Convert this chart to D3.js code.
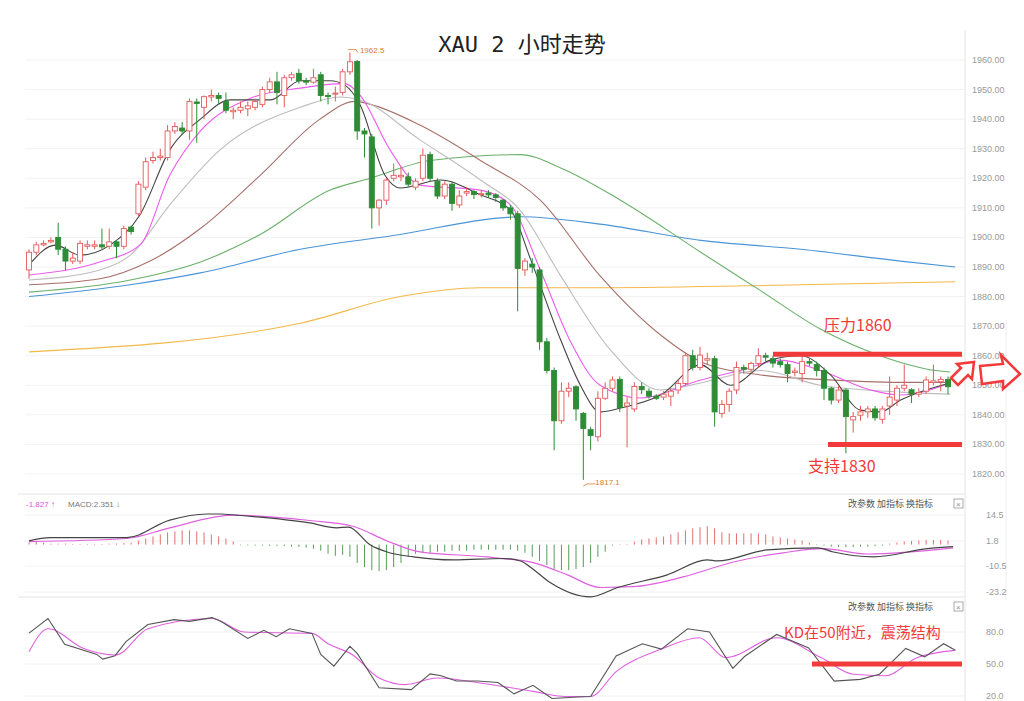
<!DOCTYPE html>
<html><head><meta charset="utf-8">
<script src="https://cdn.jsdelivr.net/npm/d3@7"></script>
<style>body{margin:0;background:#fff}svg{display:block}</style>
</head><body>
<svg id="c" width="1024" height="701"></svg>
<script>
// candles: [open, close, high, low]
var candles = [
[1889,1895,1896,1886],[1895,1897.5,1898.5,1894],[1897.5,1898,1899,1897],[1898.5,1899,1900,1898],
[1900,1896,1905,1894],[1896,1892,1897,1889],[1892,1893,1895,1891],[1892,1898,1899,1891],
[1897,1897.5,1899,1896],[1897,1897.5,1899,1896],[1897.5,1896.8,1903,1896],[1897,1898.5,1903,1896],
[1898.5,1897,1899,1893],[1897,1903,1904,1896],[1903.5,1902,1904,1901],[1908,1918,1919,1907],
[1917,1925.6,1927,1916],[1926,1927,1929,1925],[1927,1927.5,1930,1926],[1927,1936,1938,1926],
[1936,1937.5,1939,1935],[1937,1936,1939,1935],[1936,1946,1947,1933],[1945.8,1945.3,1947,1932],
[1944,1947.6,1948,1940],[1947.5,1948,1950,1946],[1948,1947,1949,1945],[1946,1943,1949,1942],
[1942.5,1943,1944,1940],[1943,1944,1946,1942],[1943.5,1944.5,1946,1941],[1944,1946,1947,1943],
[1945,1950,1951,1944],[1950,1952.6,1954,1949],[1952.6,1949,1956,1945],[1948,1954,1955,1944],
[1954,1955,1956,1953],[1955.5,1953,1957,1952],[1953,1952.5,1954,1951.5],[1952.5,1954,1957,1952],
[1955,1948,1956,1946],[1948,1947.8,1949,1945],[1948.5,1948.8,1951,1946],[1949,1956,1957,1948],
[1956,1959.4,1962.5,1955],[1959.5,1936,1960,1933],[1936,1935,1937,1927],[1934,1910,1935,1903],
[1910,1912.6,1913,1904],[1912.6,1919.4,1920,1911],[1920,1921,1925,1919],[1920.5,1921,1924,1919],
[1920.5,1918,1922,1917],[1917,1919,1920,1916],[1920,1927.8,1930,1919],[1928,1920,1929,1919],
[1919,1914,1920,1913],[1914,1918,1919,1913],[1918,1911.5,1919,1909],[1911,1914,1916,1910],
[1915,1915.5,1917,1914],[1915.5,1914.5,1916,1913],[1914.5,1914.8,1916,1913.5],[1915,1914.4,1916,1913.5],
[1914.4,1913.5,1915,1912],[1912.6,1910,1913,1909],[1910,1908,1911,1906],[1908,1889.5,1909,1875],
[1889,1892,1893,1887],[1891,1890,1893,1888],[1889,1864.7,1890,1862],[1864.7,1855,1866,1854],
[1855,1838,1856,1828],[1838,1848,1851,1837],[1848,1849,1851,1846],[1849.5,1842,1850,1838],
[1840.5,1835.4,1841,1818],[1835,1833,1836,1828],[1832.6,1845.6,1848,1831],[1845.6,1849,1851,1845],
[1849,1851.8,1853,1848],[1852,1842.5,1853,1841],[1843,1844,1846,1829],[1842,1849.6,1851,1841],
[1849.6,1848.5,1851,1847],[1848,1846.3,1849,1845.5],[1846.3,1845.6,1847,1845],[1846,1847,1848,1845],
[1846.3,1848,1849,1843],[1848.4,1850.6,1852,1847],[1850.6,1860,1861,1850],[1860,1856,1862,1855],
[1856,1860.2,1863,1855],[1858.5,1859,1861,1857],[1859,1841,1860,1836],[1840.5,1843.5,1845,1839],
[1843.5,1848,1849,1841],[1848.4,1856,1858,1847],[1856,1855.4,1857,1854],[1855.4,1857.4,1858,1854],
[1857.4,1860,1862.5,1856],[1860,1859.5,1861,1858],[1859,1857.5,1860,1856],[1858,1857,1859,1856],
[1857,1854,1858,1851],[1854.3,1854.8,1856,1853],[1854,1858,1861,1851],[1858,1857.5,1859,1856.5],
[1857,1855,1858,1853],[1855,1849,1856,1845],[1849,1845,1849.5,1843.5],[1845,1848.4,1850,1844],
[1848.4,1839.4,1849,1827],[1838.3,1839.4,1841,1834],[1839.9,1841,1843,1838],[1841,1842,1843,1839],
[1842,1839,1843,1838],[1838.5,1842,1843,1837],[1843,1846,1853,1840],[1845,1849,1850,1843],
[1849,1850,1857,1848],[1848.5,1847,1849,1844],[1847,1847.6,1849,1846],[1848,1851.8,1853,1847],
[1851,1851.5,1857,1850],[1851.2,1852,1853,1848],[1852,1849.5,1853,1847]
];

// moving averages: [candle index, price]
var ma5 = [[0,1890.7],[3.6,1897.4],[7,1894],[11.1,1897.4],[15.2,1907.6],[19.3,1929.6],[23.5,1940],[27.6,1946.5],[33.1,1946.5],[37.2,1953],[41.3,1953],[43.3,1951.5],[45.4,1944.8],[48.8,1921],[50.9,1916.7],[56.4,1919.4],[61.9,1914.4],[66,1909.3],[68.8,1892.4],[72.9,1865.3],[75.6,1850],[78.3,1841],[81.1,1842.3],[86.6,1846.7],[92.1,1856.9],[96.2,1850],[101.6,1858.5],[105.8,1860],[109.9,1853.5],[114,1841.6],[116.7,1841],[119.5,1845],[126.3,1850.8]];
var ma10 = [[0,1887.3],[9.7,1891.7],[15.2,1897.4],[19.3,1921],[23.5,1936],[30.3,1947],[37.2,1950.5],[43.3,1952],[45.4,1948],[49.5,1929.6],[53.6,1917.7],[61.9,1916],[66,1911],[70.1,1889],[74.2,1865],[78.3,1850],[83.8,1845.7],[92.1,1851.8],[97.5,1855],[103,1858.5],[108.5,1855],[115.4,1848.4],[119.5,1846.7],[126.3,1850.8]];
var ma20 = [[0,1885.6],[9.7,1889],[13.9,1894],[19.3,1911],[26.2,1929.6],[37.2,1944],[42.7,1947.5],[45.4,1946.5],[53.6,1933],[61.9,1919.4],[67.4,1909],[72.9,1887],[79.7,1862],[86.6,1848.4],[92.1,1850.8],[100.3,1855],[108.5,1850],[119.5,1847.7],[126.3,1847]];
var ma30 = [[0,1884],[9.7,1886],[16.6,1892],[23.5,1903],[31.7,1921],[39.9,1940],[44.7,1946],[46.8,1945],[53.6,1938],[61.9,1926],[70.1,1912.6],[78.3,1887],[86.6,1867],[92.1,1858],[100.3,1853.5],[108.5,1852],[119.5,1851],[126.3,1851]];
var ma60 = [[0,1881.5],[13.9,1885.6],[23.5,1891.7],[31.7,1901],[41.3,1916],[46.8,1920],[55,1926],[67.4,1928],[72.9,1923.5],[81.1,1912.6],[92.1,1895],[100.3,1882],[108.5,1869],[116.7,1860],[124.3,1855],[126.3,1854.5]];
var ma120 = [[0,1880],[13.9,1884],[23.5,1888],[37.2,1896],[50.9,1901],[64.6,1906.6],[67.4,1907],[78.3,1904.5],[92.1,1899],[105.8,1896],[119.5,1892],[127,1890]];
var ma250 = [[0,1861.3],[37.2,1871],[50.9,1880],[61.9,1883],[78.3,1883],[105.8,1884],[127,1885]];

// MACD histogram, one bar per candle
var macdHist = [1,1.5,1,0.5,0.5,0.5,0.3,0.3,0.3,0.3,0.3,0.5,0.5,0.8,
1,2,3,4,5,6,6.5,7,7,6.5,6,5,4,3,1.5,
-0.3,-0.4,-0.5,-0.5,-0.6,-0.6,-0.8,-1,-1.2,-1.5,-2,
-3,-4.5,-5.5,-5,-6,
-9,-11,-12.5,-13,-12.5,-11,-9,-6,
-4.5,-4,-4,-3.5,-3.5,-3,-3,-3,-2.5,-2.5,-2.5,-2.5,-2.5,-2.5,-3,-4,
-6,-8,-10,-12,-12.5,-12.5,-12,-11,-9,-6,-3.5,
-0.5,0.2,0.3,
1.5,2.5,3,3.5,4,5,6,7,8,8.5,9,8,6,5.5,5.5,5.5,5.5,5.5,5,4,3.5,3,2.5,2,1,
-0.3,-0.5,-1,-1.2,-1.2,-1.2,-1,-1,-0.8,-0.5,
0.5,1,1.5,1.8,2,2.2,2.3,2.2,2];
var dif = [[0,1.8],[2.9,3.4],[13.4,3.4],[19.3,12],[24.4,15],[26.2,15],[28.5,14.4],[38.5,10.6],[42.2,8.2],[43.8,8.6],[46.8,-0.2],[49.1,-3.6],[52.7,-6],[58.2,-7.5],[65,-6.8],[67.4,-8],[68.7,-10.9],[71.5,-18.7],[77,-25.6],[80.7,-21],[87.5,-14.8],[93,-7.5],[94.4,-8],[101.2,-2.6],[108.1,-1.6],[110.3,-3.6],[115.8,-6],[123.2,-2],[126.7,-1]];
var dea = [[0,1.5],[13.4,3],[19.3,8.2],[28,14.4],[38.5,11.8],[44.4,9],[49.1,1.8],[53.6,-3.6],[62.8,-6],[64.6,-6.7],[69.1,-8.8],[73.8,-14.8],[78.3,-21],[82.8,-20.6],[89.7,-15.8],[96.6,-8.5],[103.4,-4],[108.9,-2],[115,-4.6],[126.7,-1.6]];
var macdTicks = [14.5, 1.8, -10.5, -23.2];

// KD
var kLine = [[0,79],[2.6,92.6],[4.9,68.5],[9.3,59],[10.1,54.6],[11.8,57.8],[13.3,71],[16.3,87],[19.9,91.6],[22,90],[25.1,93.5],[26.3,90],[30,74],[32.2,81.6],[33.9,75.6],[35.7,83],[38.8,78.7],[40,59],[41.8,48],[44,66.5],[45,60],[48,27.8],[52.4,26],[55,40.7],[56.5,39],[58.6,34],[61.5,34],[64.3,32.7],[66.5,22],[69.1,30],[71.7,17.6],[75.3,19],[77,19.6],[80.5,57.6],[84.1,69],[86.7,64],[90.3,83],[93.3,80],[96.5,46],[98.1,57],[102.5,77.7],[106.9,65],[110.4,34],[114,35.6],[116.6,40.4],[120.2,64.6],[122.8,56.7],[125.4,69],[127,62.8]];
var dLine = [[0,61.5],[2.6,83],[7.5,64.6],[11.9,58.5],[16.3,83],[25.1,92.6],[29.5,80],[38.8,78.7],[41,69],[44.4,58.5],[48,36.9],[51.6,30.7],[56,36.9],[62.1,32],[69.1,24.3],[73.5,19.6],[77,19.6],[80.5,42.8],[86.7,64],[91.9,74.6],[95.5,56],[102.5,74.6],[108.6,56],[113,40.4],[117.4,39],[121.8,56],[127,62.8]];
var kdTicks = [80, 50, 20];

var priceTicks = d3.range(1820, 1961, 10);

var svg = d3.select("#c");
var fam = "'Liberation Sans','Noto Sans CJK SC',sans-serif";

var x = d3.scaleLinear().domain([0, 126]).range([29, 948]);
var y = d3.scaleLinear().domain([1820, 1960]).range([474, 60]);
var ym = d3.scaleLinear().domain([-23.2, 14.5]).range([592, 515]);
var yk = d3.scaleLinear().domain([20, 80]).range([696, 632]);

// frame & grid
svg.append("line").attr("x1",965).attr("x2",965).attr("y1",30).attr("y2",701).attr("stroke","#e4e4e4");
svg.append("line").attr("x1",18).attr("x2",965).attr("y1",494).attr("y2",494).attr("stroke","#e4e4e4");
svg.append("line").attr("x1",18).attr("x2",965).attr("y1",597).attr("y2",597).attr("stroke","#e4e4e4");
svg.append("line").attr("x1",1006).attr("x2",1006).attr("y1",320).attr("y2",600).attr("stroke","#eee");

svg.append("g").selectAll("line").data(priceTicks).join("line")
  .attr("x1",25).attr("x2",965).attr("y1",d=>y(d)).attr("y2",d=>y(d))
  .attr("stroke","#f2f2f2");
svg.append("g").selectAll("text").data(priceTicks).join("text")
  .attr("x",972).attr("y",d=>y(d)+3).text(d=>d.toFixed(2))
  .attr("font-family",fam).attr("font-size",9).attr("fill","#999");

svg.append("g").selectAll("line").data(macdTicks).join("line")
  .attr("x1",25).attr("x2",965).attr("y1",d=>ym(d)).attr("y2",d=>ym(d)).attr("stroke","#f2f2f2");
svg.append("g").selectAll("text").data(macdTicks).join("text")
  .attr("x",986).attr("y",d=>ym(d)+3).text(d=>d.toFixed(1))
  .attr("font-family",fam).attr("font-size",9).attr("fill","#999");
svg.append("g").selectAll("line").data(kdTicks).join("line")
  .attr("x1",25).attr("x2",965).attr("y1",d=>yk(d)).attr("y2",d=>yk(d)).attr("stroke","#f2f2f2");
svg.append("g").selectAll("text").data(kdTicks).join("text")
  .attr("x",986).attr("y",d=>yk(d)+3).text(d=>d.toFixed(1))
  .attr("font-family",fam).attr("font-size",9).attr("fill","#999");

// MA lines
var maLine = d3.line().x(d=>x(d[0])).y(d=>y(d[1])).curve(d3.curveMonotoneX);
[[ma250,"#f5b84a"],[ma120,"#4a94d8"],[ma60,"#6ab06a"],[ma30,"#a8706a"],[ma20,"#bdbdbd"],[ma10,"#ee5cee"],[ma5,"#444"]]
  .forEach(function(m){
    svg.append("path").attr("d",maLine(m[0])).attr("fill","none")
      .attr("stroke",m[1]).attr("stroke-width",1.1);
  });

// candles
var cw = 5;
var cg = svg.append("g");
candles.forEach(function(c, i){
  var up = c[1] >= c[0];
  var col = up ? "#e35a5a" : "#2e8b36";
  var top = y(Math.max(c[0],c[1])), bot = y(Math.min(c[0],c[1]));
  cg.append("line").attr("x1",x(i)).attr("x2",x(i)).attr("y1",y(c[2])).attr("y2",top).attr("stroke",col);
  cg.append("line").attr("x1",x(i)).attr("x2",x(i)).attr("y1",bot).attr("y2",y(c[3])).attr("stroke",col);
  cg.append("rect").attr("x",x(i)-cw/2).attr("y",top).attr("width",cw)
    .attr("height",Math.max(1,bot-top))
    .attr("fill", up ? "#fff" : col).attr("stroke",col).attr("stroke-width",0.9);
});

// max/min labels
svg.append("text").attr("x",x(44)+10).attr("y",y(1962.5)).text("1962.5")
  .attr("font-family",fam).attr("font-size",8).attr("fill","#e07a30");
svg.append("path").attr("d","M"+(x(44)-2)+","+(y(1962.5)-3)+" h8 l2,3").attr("fill","none").attr("stroke","#e07a30").attr("stroke-width",0.8);
svg.append("text").attr("x",x(76)+12).attr("y",y(1818)+5).text("1817.1")
  .attr("font-family",fam).attr("font-size",8).attr("fill","#e07a30");
svg.append("path").attr("d","M"+x(76)+","+(y(1818)+6)+" l4,-2 h8").attr("fill","none").attr("stroke","#e07a30").attr("stroke-width",0.8);

// title
svg.append("text").attr("x",522).attr("y",52).attr("text-anchor","middle")
  .attr("font-family","'DejaVu Sans Mono','Noto Sans CJK SC',monospace").attr("font-size",22).attr("fill","#222")
  .text("XAU 2 小时走势");

// support / resistance
var red = "#f23a3a";
svg.append("line").attr("x1",773).attr("x2",962).attr("y1",y(1860.5)).attr("y2",y(1860.5)).attr("stroke",red).attr("stroke-width",5);
svg.append("line").attr("x1",828).attr("x2",962).attr("y1",y(1830)).attr("y2",y(1830)).attr("stroke",red).attr("stroke-width",5);
svg.append("text").attr("x",824).attr("y",331).text("压力1860").attr("font-family","'Noto Sans CJK SC'").attr("font-size",16).attr("fill",red);
svg.append("text").attr("x",808).attr("y",472).text("支持1830").attr("font-family","'Noto Sans CJK SC'").attr("font-size",16).attr("fill",red);

// arrows
svg.append("path").attr("d","M951,378 L961,368 L957,364 L974,362 L972,379 L968,375 L958,385 Z")
  .attr("fill","#fff").attr("stroke",red).attr("stroke-width",2.5).attr("stroke-linejoin","miter");
svg.append("path").attr("d","M980,366 L1003,364 L1001,355 L1020,374 L1003,389 L1003,381 L982,384 Z")
  .attr("fill","#fff").attr("stroke",red).attr("stroke-width",2.5);

// MACD panel
var mg = svg.append("g");
macdHist.forEach(function(v, i){
  mg.append("line").attr("x1",x(i)).attr("x2",x(i)).attr("y1",ym(0)).attr("y2",ym(v))
    .attr("stroke", v >= 0 ? "#e07070" : "#5a9a5a").attr("stroke-width",1);
});
var mLine = d3.line().x(d=>x(d[0])).y(d=>ym(d[1])).curve(d3.curveMonotoneX);
svg.append("path").attr("d",mLine(dea)).attr("fill","none").attr("stroke","#e060e0").attr("stroke-width",1.2);
svg.append("path").attr("d",mLine(dif)).attr("fill","none").attr("stroke","#444").attr("stroke-width",1.2);
svg.append("text").attr("x",26).attr("y",507).attr("font-family",fam).attr("font-size",8).attr("fill","#e050e0").text("-1.827 ↑");
svg.append("text").attr("x",68).attr("y",507).attr("font-family",fam).attr("font-size",8).attr("fill","#777").text("MACD:2.351 ↓");

// KD panel
var kl = d3.line().x(d=>x(d[0])).y(d=>yk(d[1]));
svg.append("path").attr("d",kl.curve(d3.curveMonotoneX)(dLine)).attr("fill","none").attr("stroke","#e060e0").attr("stroke-width",1.1);
svg.append("path").attr("d",kl.curve(d3.curveLinear)(kLine)).attr("fill","none").attr("stroke","#555").attr("stroke-width",1.1);
svg.append("line").attr("x1",812).attr("x2",962).attr("y1",yk(50)).attr("y2",yk(50)).attr("stroke",red).attr("stroke-width",5);
svg.append("text").attr("x",784).attr("y",638).text("KD在50附近，震荡结构").attr("font-family","'Noto Sans CJK SC'").attr("font-size",15).attr("fill",red);

// panel buttons
[507, 610].forEach(function(yy){
  svg.append("text").attr("x",848).attr("y",yy).attr("font-family","'Noto Sans CJK SC'").attr("font-size",9).attr("fill","#555").text("改参数  加指标  换指标");
  svg.append("rect").attr("x",954).attr("y",yy-8).attr("width",9).attr("height",9).attr("fill","none").attr("stroke","#aaa");
  svg.append("text").attr("x",956).attr("y",yy).attr("font-family",fam).attr("font-size",8).attr("fill","#888").text("×");
});
</script>
</body></html>
